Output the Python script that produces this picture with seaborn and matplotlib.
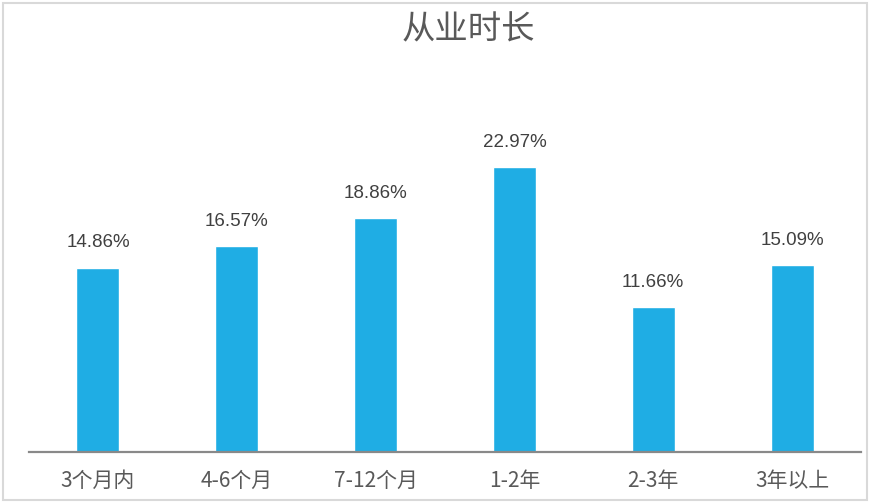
import matplotlib
matplotlib.use("Agg")
import matplotlib.pyplot as plt
import seaborn as sns
import pandas as pd
from matplotlib.patches import Rectangle

# Data
categories = ["3个月内", "4-6个月", "7-12个月", "1-2年", "2-3年", "3年以上"]
shares = [14.86, 16.57, 18.86, 22.97, 11.66, 15.09]

df = pd.DataFrame({"category": categories, "share": shares})

sns.set_style("white")
plt.rcParams['font.family'] = ['Noto Sans CJK SC', 'DejaVu Sans']

fig = plt.figure(figsize=(8.7, 5.03), dpi=100)
ax = fig.add_axes([0.0328, 0.1014, 0.9574, 0.74])

sns.barplot(data=df, x="category", y="share", color="#1FADE4",
            saturation=1, width=0.31, ax=ax)

ax.set_ylim(0, 30)
ax.set_xlim(-0.5, len(categories) - 0.5)

# value labels
for i, v in enumerate(shares):
    ax.text(i, v + 1.3, f"{v:.2f}%", ha="center", va="bottom",
            fontsize=13.5, color="#404040", family="Liberation Sans")

for side in ["left", "right", "top"]:
    ax.spines[side].set_visible(False)
ax.spines["bottom"].set_color("#898989")
ax.spines["bottom"].set_linewidth(1.6)
ax.set_yticks([])
ax.set_xlabel("")
ax.set_ylabel("")
ax.tick_params(axis="x", length=0, pad=13, labelsize=15, labelcolor="#595959")

fig.text(0.538, 0.94, "从业时长", ha="center", va="center",
         fontsize=24, color="#595959", fontweight="light")

# chart border
fig.patches.append(Rectangle((0.004, 0.006), 0.992, 0.988, transform=fig.transFigure,
                             fill=False, edgecolor="#D9D9D9", linewidth=1.5))

fig.savefig("out.png", dpi=100)
